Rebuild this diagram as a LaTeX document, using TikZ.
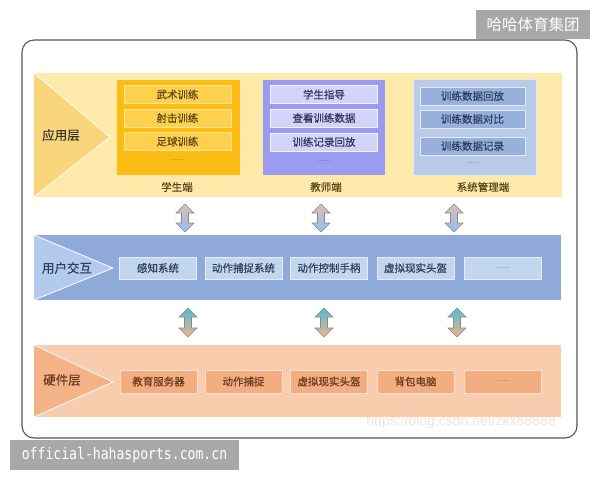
\documentclass[tikz,border=0pt]{standalone}
\usepackage{fontspec}
\newfontfamily\cjk[FakeBold=0.35]{Noto Sans CJK SC}
\newfontfamily\cjkplain{Noto Sans CJK SC}
\newfontfamily\wmfont[FakeStretch=0.82]{DejaVu Sans Mono}
\newfontfamily\csdnfont{Liberation Sans}
\definecolor{appband}{HTML}{FDE9AA}
\definecolor{apptri}{HTML}{F9D67C}
\definecolor{stubox}{HTML}{FBBC14}
\definecolor{stuitem}{HTML}{FDD04E}
\definecolor{stuedge}{HTML}{FDE49A}
\definecolor{teabox}{HTML}{9B9BEF}
\definecolor{teaitem}{HTML}{D3D3F9}
\definecolor{teaedge}{HTML}{F4F4FE}
\definecolor{admbox}{HTML}{BACBE9}
\definecolor{admitem}{HTML}{97B0DC}
\definecolor{admedge}{HTML}{E2EAF6}
\definecolor{uiband}{HTML}{8FA9DA}
\definecolor{uitri}{HTML}{B2CAEE}
\definecolor{uiitem}{HTML}{C2D6EE}
\definecolor{uiedge}{HTML}{E6EFF9}
\definecolor{hwband}{HTML}{F8CCAC}
\definecolor{hwtri}{HTML}{F4B287}
\definecolor{hwitem}{HTML}{F2AE80}
\definecolor{hwedge}{HTML}{FCE2CC}
\definecolor{framec}{HTML}{555555}
\definecolor{wmgray}{HTML}{A8A8A8}
\definecolor{arrtan}{HTML}{D9BFB0}
\definecolor{arrblue}{HTML}{8FC0F2}
\definecolor{arrteal}{HTML}{4FBDD6}
\definecolor{arrpeach}{HTML}{F2B28C}
\definecolor{arredge}{HTML}{8A8A8A}
\definecolor{txtbrown}{HTML}{5A4418}
\definecolor{txtdark}{HTML}{3A3328}
\definecolor{txtpurple}{HTML}{33335A}
\definecolor{txtblue}{HTML}{2E3E5E}
\definecolor{txthw}{HTML}{6B3B1F}
\newcommand\dblarr[5]{%
  \shade[top color=#4,bottom color=#5,draw=arredge,line width=0.6pt]
  (#1,#2) -- (#1+9,#2+9) -- (#1+3.5,#2+9) -- (#1+3.5,#3-9) -- (#1+9,#3-9)
  -- (#1,#3) -- (#1-9,#3-9) -- (#1-3.5,#3-9) -- (#1-3.5,#2+9) -- (#1-9,#2+9) -- cycle;}
\begin{document}
\begin{tikzpicture}[x=1pt,y=-1pt,
  every node/.style={inner sep=0pt,outer sep=0pt},
  band/.style={anchor=north west},
  item/.style={minimum width=107pt,minimum height=18pt,line width=1pt,font=\cjk\fontsize{10.5}{12}\selectfont},
  stuitm/.style={item,fill=stuitem,draw=stuedge,text=txtbrown},
  teaitm/.style={item,fill=teaitem,draw=teaedge,text=txtpurple},
  admitm/.style={item,minimum width=105pt,fill=admitem,draw=admedge,text=txtblue},
  uiitm/.style={item,minimum width=77pt,minimum height=22pt,fill=uiitem,draw=uiedge,text=txtblue},
  hwitm/.style={item,minimum width=77pt,minimum height=23pt,fill=hwitem,draw=hwedge,text=txthw},
  layerlbl/.style={font=\cjk\fontsize{12.5}{14}\selectfont},
  sublbl/.style={font=\cjk\fontsize{10.5}{12}\selectfont},
  dots/.style={font=\cjkplain\fontsize{6}{7}\selectfont}]
\fill[white] (0,0) rectangle (600,480);
\useasboundingbox (0,0) rectangle (600,480);
% frame
\draw[framec,line width=1.1pt,rounded corners=12pt] (22,40) rectangle (577,438);
% ---------- application layer
\node[band,fill=appband,minimum width=528pt,minimum height=124pt] (app) at (34,73) {};
\fill[apptri,draw=white,line width=0.8pt] (34,73) -- (110,137) -- (34,197);
\node[layerlbl,text=txtdark] (applbl) at (61,135) {应用层};
% student
\node[band,fill=stubox,minimum width=123pt,minimum height=95pt] (stu) at (117,80) {};
\node[stuitm] (s1) at (177.5,94.5) {武术训练};
\node[stuitm] (s2) at (177.5,118) {射击训练};
\node[stuitm] (s3) at (177.5,141.5) {足球训练};
\node[dots,text=txtbrown] (s4) at (177.5,160) {……};
\node[sublbl,text=txtbrown] (stulbl) at (177,187) {学生端};
% teacher
\node[band,fill=teabox,minimum width=122pt,minimum height=95pt] (tea) at (263,80) {};
\node[teaitm] (t1) at (324,94.5) {学生指导};
\node[teaitm] (t2) at (324,118) {查看训练数据};
\node[teaitm] (t3) at (324,142) {训练记录回放};
\node[dots,text=txtpurple] (t4) at (324,161) {……};
\node[sublbl,text=txtbrown] (tealbl) at (326,187) {教师端};
% admin
\node[band,fill=admbox,draw=admedge,line width=0.8pt,minimum width=123pt,minimum height=96pt] (adm) at (413,79) {};
\node[admitm] (a1) at (472.5,96) {训练数据回放};
\node[admitm] (a2) at (472.5,119) {训练数据对比};
\node[admitm] (a3) at (472.5,146) {训练数据记录};
\node[dots,text=txtblue] (a4) at (472.5,163) {……};
\node[sublbl,text=txtbrown] (admlbl) at (483,187) {系统管理端};
% ---------- arrows app <-> ui
\dblarr{185}{204}{232}{arrtan}{arrblue}
\dblarr{321}{204}{232}{arrtan}{arrblue}
\dblarr{454}{204}{232}{arrtan}{arrblue}
% ---------- user interaction layer
\node[band,fill=uiband,minimum width=527pt,minimum height=65pt] (ui) at (34,235) {};
\fill[uitri,draw=white,line width=0.8pt] (34,235) -- (113,268) -- (34,300);
\node[layerlbl,text=txtblue] (uilbl) at (67,268) {用户交互};
\node[uiitm] (u1) at (158,268) {感知系统};
\node[uiitm] (u2) at (243.5,268) {动作捕捉系统};
\node[uiitm] (u3) at (329,268) {动作控制手柄};
\node[uiitm] (u4) at (415.5,268) {虚拟现实头盔};
\node[uiitm] (u5) at (503,268) {\cjkplain\fontsize{6}{7}\selectfont ……};
% ---------- arrows ui <-> hw
\dblarr{188}{308}{337}{arrteal}{arrpeach}
\dblarr{324}{308}{337}{arrteal}{arrpeach}
\dblarr{457}{308}{337}{arrteal}{arrpeach}
% ---------- hardware layer
\node[band,fill=hwband,minimum width=527pt,minimum height=72pt] (hw) at (34,345) {};
\fill[hwtri,draw=white,line width=0.8pt] (34,345) -- (113,382) -- (34,417);
\node[layerlbl,text=txthw] (hwlbl) at (62,380) {硬件层};
\node[hwitm] (h1) at (158.5,381.5) {教育服务器};
\node[hwitm] (h2) at (243.5,381.5) {动作捕捉};
\node[hwitm] (h3) at (329,381.5) {虚拟现实头盔};
\node[hwitm] (h4) at (415.5,381.5) {背包电脑};
\node[hwitm] (h5) at (503,381.5) {\cjkplain\fontsize{6}{7}\selectfont ……};
% faint csdn watermark
\node[font=\csdnfont\fontsize{14}{16}\selectfont,text=gray!35,text opacity=0.55] (csdn) at (461,422) {https://blog.csdn.net/zkx88888};
% ---------- watermark boxes
\node[fill=wmgray,minimum width=114pt,minimum height=29pt,text=white,font=\cjkplain\fontsize{15.5}{17}\selectfont] (wmtop) at (533,24.5) {哈哈体育集团};
\node[fill=wmgray,minimum width=229pt,minimum height=30pt,text=white,font=\wmfont\fontsize{16}{18}\selectfont] (wmbot) at (124.5,455) {official-hahasports.com.cn};
\end{tikzpicture}
\end{document}
